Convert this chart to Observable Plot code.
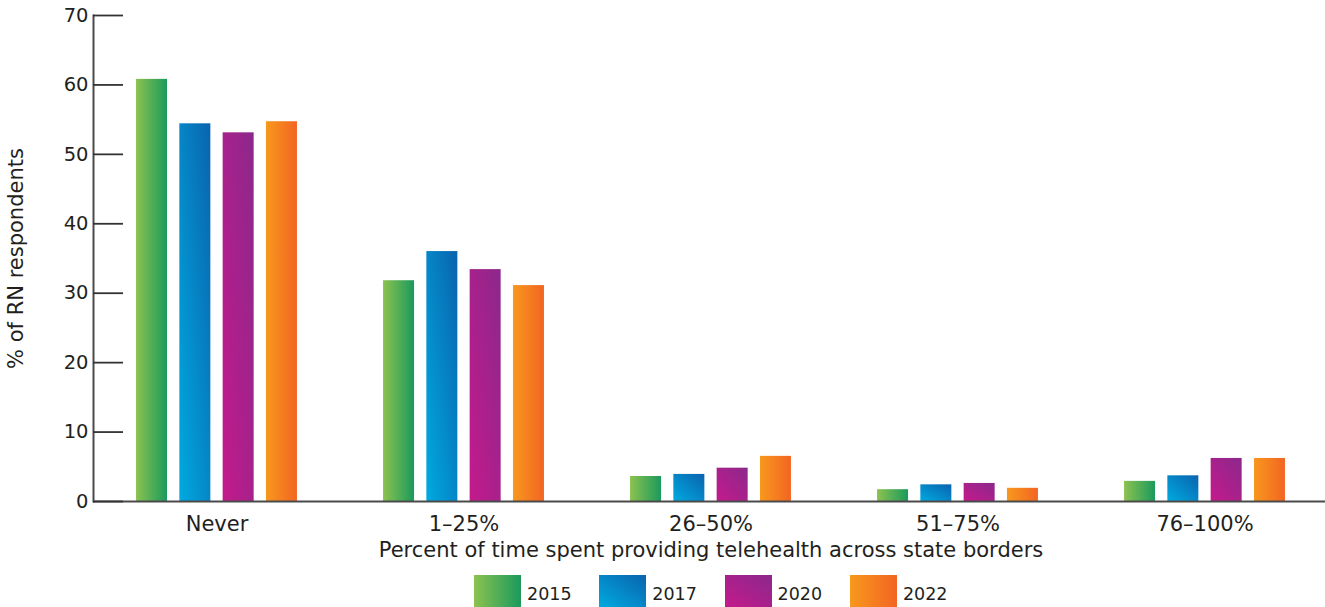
<!DOCTYPE html>
<html>
<head>
<meta charset="utf-8">
<script src="https://cdn.jsdelivr.net/npm/d3@7"></script>
<script src="https://cdn.jsdelivr.net/npm/@observablehq/plot@0.6"></script>
<style>
  body { margin: 0; background: #fff; font-family: "DejaVu Sans", sans-serif; color: #231f20; }
  #chart svg { display: block; overflow: visible; }
  #legend { display: flex; padding-left: 474px; margin-top: 3px; height: 32px; }
  .item { display: flex; align-items: flex-end; width: 125.3px; }
  .sw { width: 47px; height: 32px; margin-right: 6px; flex: none; }
  .lab { font-size: 17.5px; line-height: 1; margin-bottom: 4px; }
</style>
</head>
<body>
<div id="chart"></div>
<div id="legend"></div>
<script>
const categories = ["Never", "1–25%", "26–50%", "51–75%", "76–100%"];
const years = ["2015", "2017", "2020", "2022"];
const v2015 = [60.8, 31.8, 3.6, 1.7, 2.9];
const v2017 = [54.4, 36.0, 3.9, 2.4, 3.7];
const v2020 = [53.1, 33.4, 4.8, 2.6, 6.2];
const v2022 = [54.7, 31.1, 6.5, 1.9, 6.2];
const yTicks = [0, 10, 20, 30, 40, 50, 60, 70];
const xTitle = "Percent of time spent providing telehealth across state borders";
const yTitle = "% of RN respondents";

// gradient colours per year
const gradients = {
  "2015": {from: "#8cc250", to: "#1a9a5c", dir: [0, 0, 1, 0], css: "to right"},
  "2017": {from: "#00aae0", to: "#0a63ae", dir: [0, 1, 1, 0], css: "to top right"},
  "2020": {from: "#c41a8b", to: "#8b288c", dir: [0, 1, 1, 0], css: "to top right"},
  "2022": {from: "#f8981d", to: "#f26522", dir: [0, 0, 1, 0], css: "to right"}
};

const series = {"2015": v2015, "2017": v2017, "2020": v2020, "2022": v2022};
const data = years.flatMap(y => categories.map((c, i) => ({category: c, year: y, value: series[y][i]})));

const plot = Plot.plot({
  width: 1325,
  height: 572,
  marginTop: 15,
  marginBottom: 71,
  marginLeft: 93,
  marginRight: 0,
  style: {fontFamily: "DejaVu Sans, sans-serif", fontSize: "21px", color: "#231f20", background: "transparent"},
  fx: {domain: categories, range: [93, 1328], paddingInner: 0, paddingOuter: 0, round: false},
  x: {domain: years, paddingInner: 0.284, paddingOuter: 0.994, round: false, axis: null},
  y: {domain: [0, 70]},
  color: {type: "identity"},
  marks: [
    Plot.barY(data, {fx: "category", x: "year", y: "value", fill: d => `url(#g${d.year})`}),
    Plot.ruleY([0], {stroke: "#4a4a4a", strokeWidth: 2}),
    Plot.frame({anchor: "left", facetAnchor: "left", stroke: "#4a4a4a", strokeWidth: 2}),
    Plot.axisY({
      ticks: yTicks, tickSize: -30, tickPadding: 35, stroke: "#333", strokeWidth: 1.8,
      label: null, fontSize: 19.5
    }),
    Plot.axisY({
      ticks: [], label: yTitle, labelAnchor: "center", labelArrow: "none", labelOffset: 85, fontSize: 21
    }),
    Plot.axisFx({
      anchor: "bottom", tickSize: 0, tickPadding: 15, fontSize: 21,
      label: xTitle, labelAnchor: "center", labelArrow: "none", labelOffset: 55
    })
  ]
});

const defs = d3.select(plot).insert("defs", ":first-child");
for (const y of years) {
  const g = gradients[y];
  const lg = defs.append("linearGradient").attr("id", "g" + y)
    .attr("x1", g.dir[0]).attr("y1", g.dir[1]).attr("x2", g.dir[2]).attr("y2", g.dir[3]);
  lg.append("stop").attr("offset", 0).attr("stop-color", g.from);
  lg.append("stop").attr("offset", 1).attr("stop-color", g.to);
}
document.getElementById("chart").append(plot);

const legend = d3.select("#legend");
for (const y of years) {
  const g = gradients[y];
  const item = legend.append("div").attr("class", "item");
  item.append("div").attr("class", "sw").style("background", `linear-gradient(${g.css}, ${g.from}, ${g.to})`);
  item.append("div").attr("class", "lab").text(y);
}
</script>
</body>
</html>
